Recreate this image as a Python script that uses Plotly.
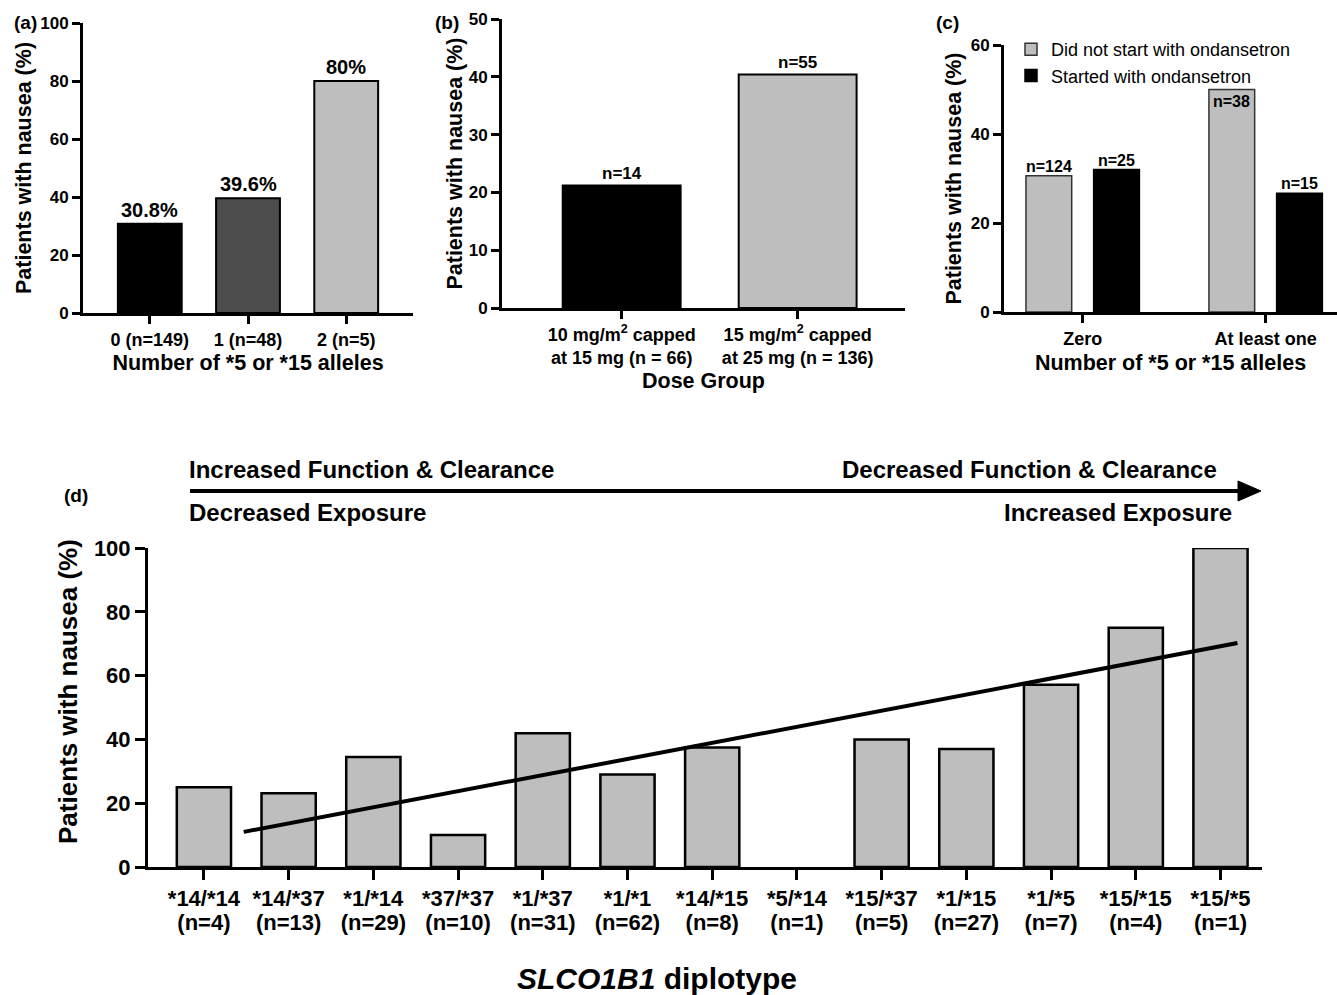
import plotly.graph_objects as go

# ---------------- data ----------------
a_categories = ["0 (n=149)", "1 (n=48)", "2 (n=5)"]
a_values = [30.8, 39.6, 80.0]
a_labels = ["30.8%", "39.6%", "80%"]

b_categories = ["10 mg/m<sup>2</sup> capped<br>at 15 mg (n = 66)",
                "15 mg/m<sup>2</sup> capped<br>at 25 mg (n = 136)"]
b_values = [21.2, 40.4]
b_labels = ["n=14", "n=55"]

c_categories = ["Zero", "At least one"]
c_series_names = ["Did not start with ondansetron", "Started with ondansetron"]
c_no_ond = [30.6, 50.0]
c_ond = [32.0, 26.7]
c_no_ond_labels = ["n=124", "n=38"]
c_ond_labels = ["n=25", "n=15"]

d_diplotypes = ["*14/*14", "*14/*37", "*1/*14", "*37/*37", "*1/*37", "*1/*1", "*14/*15",
                "*5/*14", "*15/*37", "*1/*15", "*1/*5", "*15/*15", "*15/*5"]
d_n = [4, 13, 29, 10, 31, 62, 8, 1, 5, 27, 7, 4, 1]
d_values = [25.0, 23.1, 34.5, 10.0, 41.9, 29.0, 37.5, 0.0, 40.0, 37.0, 57.1, 75.0, 100.0]
d_trend_x = [0.47, 12.2]
d_trend_y = [11.0, 70.2]

# ---------------- style ----------------
W, H = 1337, 995
F = "Liberation Sans, Arial, sans-serif"
GRAY = "#bebebe"
DARK = "#4d4d4d"
BLACK = "#000000"


def px_x(p):
    return p / W


def px_y(p):
    return 1 - p / H


fig = go.Figure()

# panel (a)
fig.add_trace(go.Bar(x=list(range(len(a_values))), y=a_values, width=0.65,
                     marker=dict(color=[BLACK, DARK, GRAY], line=dict(color=BLACK, width=2)),
                     xaxis="x", yaxis="y", showlegend=False, hoverinfo="y"))
# panel (b)
fig.add_trace(go.Bar(x=list(range(len(b_values))), y=b_values, width=0.67,
                     marker=dict(color=[BLACK, GRAY], line=dict(color=BLACK, width=2)),
                     xaxis="x2", yaxis="y2", showlegend=False, hoverinfo="y"))
# panel (c)
C_W = 0.25
C_OFF = [-0.31, 0.06]
fig.add_trace(go.Bar(x=list(range(len(c_no_ond))), y=c_no_ond, width=C_W, offset=C_OFF[0],
                     name=c_series_names[0],
                     marker=dict(color=GRAY, line=dict(color="#333333", width=1.5)),
                     xaxis="x3", yaxis="y3", showlegend=True))
fig.add_trace(go.Bar(x=list(range(len(c_ond))), y=c_ond, width=C_W, offset=C_OFF[1],
                     name=c_series_names[1],
                     marker=dict(color=BLACK, line=dict(color=BLACK, width=1.5)),
                     xaxis="x3", yaxis="y3", showlegend=True))
# panel (d)
fig.add_trace(go.Bar(x=list(range(len(d_values))), y=d_values, width=0.64,
                     marker=dict(color=GRAY,
                                 line=dict(color=BLACK, width=[2.5 if v > 0 else 0 for v in d_values])),
                     xaxis="x4", yaxis="y4", showlegend=False, hoverinfo="y"))
fig.add_trace(go.Scatter(x=d_trend_x, y=d_trend_y, mode="lines",
                         line=dict(color=BLACK, width=4),
                         xaxis="x4", yaxis="y4", showlegend=False))
# empty helper trace so the second (n=) label row axis is drawn
fig.add_trace(go.Scatter(x=[], y=[], xaxis="x5", yaxis="y4", showlegend=False, hoverinfo="skip"))

tick_f = dict(family=F, size=18, color="black", weight="bold")
ytick_f = dict(family=F, size=17, color="black", weight="bold")
title_f = dict(family=F, size=21.5, color="black", weight="bold")
tick_d = dict(family=F, size=22, color="black", weight="bold")

common = dict(showline=True, linecolor="black", linewidth=3, ticks="outside",
              ticklen=8, tickwidth=3, tickcolor="black", showgrid=False, zeroline=False,
              fixedrange=True, automargin=False)

D_RANGE = [-0.66, 12.49]
D_DOM = [px_x(148), px_x(1262)]

fig.update_layout(
    template="none",
    width=W, height=H, margin=dict(l=0, r=0, t=0, b=0, autoexpand=False),
    paper_bgcolor="white", plot_bgcolor="white",
    barmode="group",
    font=dict(family=F, color="black"),
    # (a)
    xaxis=dict(domain=[px_x(83), px_x(413)], anchor="y", range=[-0.68, 2.68],
               tickvals=list(range(3)), ticktext=a_categories, tickfont=tick_f,
               title=dict(text="Number of *5 or *15 alleles", font=title_f, standoff=7), **common),
    yaxis=dict(domain=[px_y(313), px_y(23)], anchor="x", range=[0, 100], tickvals=[0, 20, 40, 60, 80, 100],
               tickfont=ytick_f,
               title=dict(text="Patients with nausea (%)", font=title_f, standoff=3), **common),
    # (b)
    xaxis2=dict(domain=[px_x(502), px_x(905)], anchor="y2", range=[-0.68, 1.61],
                tickvals=list(range(2)), ticktext=b_categories, tickfont=tick_f,
                title=dict(text="Dose Group", font=title_f, standoff=6), **common),
    yaxis2=dict(domain=[px_y(308), px_y(19)], anchor="x2", range=[0, 50], tickvals=[0, 10, 20, 30, 40, 50],
                tickfont=ytick_f,
                title=dict(text="Patients with nausea (%)", font=title_f, standoff=1), **common),
    # (c)
    xaxis3=dict(domain=[px_x(1004), 1.0], anchor="y3", range=[-0.43, 1.39],
                tickvals=list(range(2)), ticktext=c_categories, tickfont=tick_f,
                title=dict(text="Number of *5 or *15 alleles", font=title_f, standoff=8), **common),
    yaxis3=dict(domain=[px_y(312), px_y(45)], anchor="x3", range=[0, 60], tickvals=[0, 20, 40, 60],
                tickfont=ytick_f,
                title=dict(text="Patients with nausea (%)", font=title_f, standoff=4), **common),
    # (d) diplotype row
    xaxis4=dict(domain=D_DOM, anchor="y4", range=D_RANGE,
                tickvals=list(range(len(d_diplotypes))), ticktext=d_diplotypes,
                tickfont=tick_d, **{**common, "ticklen": 10}),
    # (d) n= row (overlaid axis, labels only)
    xaxis5=dict(domain=D_DOM, overlaying="x4", anchor="free", position=px_y(867 + 26),
                range=D_RANGE, tickvals=list(range(len(d_n))),
                ticktext=[f"(n={n})" for n in d_n], tickfont=tick_d,
                showline=False, ticks="outside", ticklen=10, tickcolor="rgba(0,0,0,0)",
                showgrid=False, zeroline=False, fixedrange=True, automargin=False),
    yaxis4=dict(domain=[px_y(867), px_y(548)], anchor="x4", range=[0, 100],
                tickvals=[0, 20, 40, 60, 80, 100], tickfont=tick_d,
                **{**common, "ticklen": 10}),
    legend=dict(x=px_x(1011), y=px_y(31), xanchor="left", yanchor="top",
                bgcolor="rgba(0,0,0,0)", font=dict(family=F, size=18, color="black"),
                tracegroupgap=0, traceorder="normal"),
)

ann = []
# bar value labels
lab_f = dict(family=F, size=20, color="black", weight="bold")
for i, (v, t) in enumerate(zip(a_values, a_labels)):
    ann.append(dict(x=i, y=v, xref="x", yref="y", text=t, showarrow=False,
                    yanchor="bottom", yshift=1, font=lab_f))
nf = dict(family=F, size=17, color="black", weight="bold")
for i, (v, t) in enumerate(zip(b_values, b_labels)):
    ann.append(dict(x=i, y=v, xref="x2", yref="y2", text=t, showarrow=False,
                    yanchor="bottom", yshift=0, font=nf))
for series, labels, off in [(c_no_ond, c_no_ond_labels, C_OFF[0]), (c_ond, c_ond_labels, C_OFF[1])]:
    for i, (v, t) in enumerate(zip(series, labels)):
        inside = v >= 45
        ann.append(dict(x=i + off + C_W / 2, y=v, xref="x3", yref="y3", text=t, showarrow=False,
                        yanchor="top" if inside else "bottom", yshift=-2 if inside else -1,
                        font=dict(family=F, size=16, color="black", weight="bold")))

# (d) axis titles (placed as in the original layout, not centred on the axis)
ann.append(dict(x=px_x(68), y=px_y(692), xref="paper", yref="paper", showarrow=False,
                text="Patients with nausea (%)", textangle=-90, xanchor="center", yanchor="middle",
                font=dict(family=F, size=26, color="black", weight="bold")))
ann.append(dict(x=px_x(657), y=px_y(978), xref="paper", yref="paper", showarrow=False,
                text="<i>SLCO1B1</i> diplotype", xanchor="center", yanchor="middle",
                font=dict(family=F, size=30, color="black", weight="bold")))

# panel letters
pl_f = dict(family=F, size=19, color="black", weight="bold")
for txt, x, y in [("(a)", 12, 23), ("(b)", 433, 22), ("(c)", 934, 22), ("(d)", 62, 495)]:
    ann.append(dict(x=px_x(x), y=px_y(y), xref="paper", yref="paper", text=txt, showarrow=False,
                    xanchor="left", yanchor="middle", font=pl_f))

# (d) header texts
hdr_f = dict(family=F, size=24, color="black", weight="bold")
ann.append(dict(x=px_x(187), y=px_y(469), xref="paper", yref="paper", showarrow=False,
                text="Increased Function & Clearance", xanchor="left", yanchor="middle", font=hdr_f))
ann.append(dict(x=px_x(1219), y=px_y(469), xref="paper", yref="paper", showarrow=False,
                text="Decreased Function & Clearance", xanchor="right", yanchor="middle", font=hdr_f))
ann.append(dict(x=px_x(187), y=px_y(512), xref="paper", yref="paper", showarrow=False,
                text="Decreased Exposure", xanchor="left", yanchor="middle", font=hdr_f))
ann.append(dict(x=px_x(1234), y=px_y(512), xref="paper", yref="paper", showarrow=False,
                text="Increased Exposure", xanchor="right", yanchor="middle", font=hdr_f))

# (d) header arrow (decoration)
shapes = [
    dict(type="line", xref="paper", yref="paper", x0=px_x(190), x1=px_x(1242),
         y0=px_y(491), y1=px_y(491), line=dict(color="black", width=4)),
    dict(type="path", xref="paper", yref="paper", fillcolor="black", line=dict(color="black", width=1),
         path=f"M {px_x(1238)} {px_y(481)} L {px_x(1261)} {px_y(491)} L {px_x(1238)} {px_y(501)} Z"),
]

fig.update_layout(annotations=ann, shapes=shapes)
fig.write_html(
    "out.html",
    config={"displayModeBar": False},
    post_script="document.body.style.margin='0px';document.body.style.overflow='hidden';",
)
